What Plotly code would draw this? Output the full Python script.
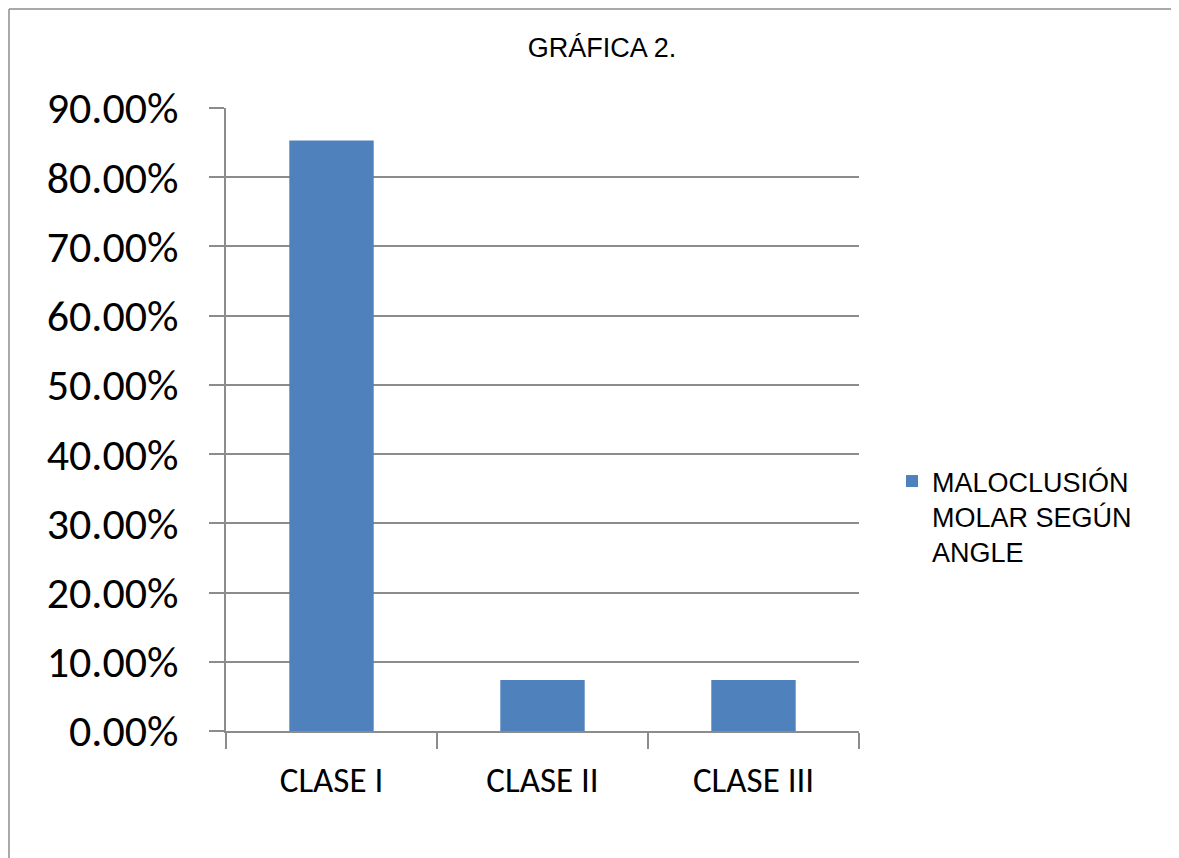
import plotly.graph_objects as go

categories = ["CLASE I", "CLASE II", "CLASE III"]
values = [0.853, 0.0735, 0.0735]
series_name = "MALOCLUSIÓN<br>MOLAR SEGÚN<br>ANGLE"
title_text = "GRÁFICA 2."
y_ticks = [0, 0.1, 0.2, 0.3, 0.4, 0.5, 0.6, 0.7, 0.8, 0.9]

OFF = 8  # page body margin
W, H = 1179 - OFF, 858 - OFF
L, R, T, B = 226 - OFF, 859 - OFF, 108 - OFF, 731 - OFF  # plot area in figure pixels

def px_x(p):
    return (p - OFF - L) / (R - L)

def px_y(p):
    return (B - (p - OFF)) / (B - T)

fig = go.Figure()
fig.add_trace(go.Bar(
    x=categories, y=values, name=series_name,
    marker=dict(color="#4F81BD", line=dict(width=0)),
    showlegend=True,
))

grid = "#8C8C8C"
border = dict(color="#8C8C8C", width=1.5)
fig.update_layout(
    width=W, height=H,
    margin=dict(l=L, r=W - R, t=T, b=H - B, autoexpand=False),
    paper_bgcolor="white", plot_bgcolor="white",
    bargap=0.6,
    title=dict(text=title_text, xref="container", yref="container",
               x=(602 - OFF) / W, y=1 - (48 - OFF) / H, xanchor="center", yanchor="middle",
               font=dict(family="Arial, Liberation Sans", size=27, color="black")),
    showlegend=True,
    legend=dict(x=px_x(892), y=px_y(457), xanchor="left", yanchor="top",
                font=dict(family="Arial, Liberation Sans", size=27, color="black"),
                valign="top", bgcolor="rgba(0,0,0,0)", borderwidth=0),
    xaxis=dict(type="category", tickson="boundaries", ticks="outside", ticklen=16,
               tickcolor=grid, tickwidth=1.5, showgrid=False,
               showline=True, linecolor=grid, linewidth=1.5,
               tickfont=dict(family="Carlito, Calibri, Lato", size=35, color="black"),
               ticklabelstandoff=17),
    yaxis=dict(range=[0, 0.9], tickvals=y_ticks, tickformat=".2%",
               ticks="outside", ticklen=15, tickcolor=grid, tickwidth=1.5,
               showgrid=True, gridcolor=grid, gridwidth=1.5,
               showline=True, linecolor=grid, linewidth=1.5, zeroline=False,
               tickfont=dict(family="Carlito, Calibri, Lato", size=44, color="black"),
               ticklabelstandoff=22),
    shapes=[
        dict(type="line", xref="paper", yref="paper",
             x0=px_x(OFF + 1), x1=px_x(1179 + 40), y0=px_y(OFF + 1), y1=px_y(OFF + 1),
             line=border, layer="below"),
        dict(type="line", xref="paper", yref="paper",
             x0=px_x(OFF + 1), x1=px_x(OFF + 1), y0=px_y(OFF + 1), y1=px_y(858 + 40),
             line=border, layer="below"),
    ],
)

fig.write_html("out.html")
